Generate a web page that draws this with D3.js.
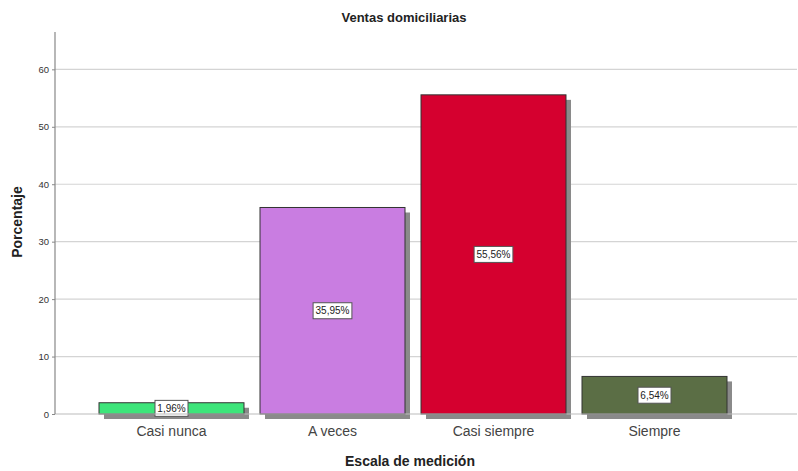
<!DOCTYPE html>
<html>
<head>
<meta charset="utf-8">
<script src="https://cdn.jsdelivr.net/npm/d3@7"></script>
<style>
body { margin: 0; background: #fff; }
svg { display: block; font-family: "Liberation Sans", Arial, sans-serif; }
</style>
</head>
<body>
<svg id="svg" width="798" height="471"></svg>
<script>
const categories = ['Casi nunca', 'A veces', 'Casi siempre', 'Siempre']
const values = [1.96, 35.95, 55.56, 6.54]
const labels = ['1,96%', '35,95%', '55,56%', '6,54%']
const colors = ['#3de57a', '#c97de1', '#d5002f', '#5b6e45']
const yTicks = [0, 10, 20, 30, 40, 50, 60]

const $svg = d3.select('#svg')

const plot = { left: 55, right: 797, top: 32, bottom: 414 }

const y = d3.scaleLinear()
	.domain([0, 66.5])
	.range([plot.bottom, plot.top])

const x = d3.scaleBand()
	.domain(categories)
	.range([91, 735])
	.paddingInner(0.0994)
	.paddingOuter(0.0497)

// gridlines
$svg.append('g')
	.selectAll('line')
	.data(yTicks.filter(d => d > 0))
	.join('line')
	.attr('x1', plot.left)
	.attr('x2', plot.right)
	.attr('y1', d => y(d))
	.attr('y2', d => y(d))
	.attr('stroke', '#d4d4d4')
	.attr('stroke-width', 1.2)

// bars with shadow
const bars = $svg.append('g')
	.selectAll('g')
	.data(categories.map((c, i) => ({ c, v: values[i], label: labels[i], color: colors[i] })))
	.join('g')

bars.append('rect')
	.attr('x', d => x(d.c) + 5)
	.attr('y', d => y(d.v) + 5)
	.attr('width', x.bandwidth())
	.attr('height', d => y(0) - y(d.v))
	.attr('fill', '#8a8a8a')

// x baseline
$svg.append('line')
	.attr('x1', plot.left)
	.attr('x2', plot.right)
	.attr('y1', y(0))
	.attr('y2', y(0))
	.attr('stroke', '#bbb')
	.attr('stroke-width', 1.2)

bars.append('rect')
	.attr('x', d => x(d.c))
	.attr('y', d => y(d.v))
	.attr('width', x.bandwidth())
	.attr('height', d => y(0) - y(d.v))
	.attr('fill', d => d.color)
	.attr('stroke', '#333')
	.attr('stroke-width', 1)

const lab = bars.append('g')
	.attr('transform', d => `translate(${x(d.c) + x.bandwidth() / 2},${(y(d.v) + y(0)) / 2})`)

lab.append('rect')
	.attr('x', d => -(d.label.length * 2.9 + 2))
	.attr('y', -8)
	.attr('width', d => d.label.length * 5.8 + 4)
	.attr('height', 16)
	.attr('fill', '#fff')
	.attr('stroke', '#555')
	.attr('stroke-width', 1)

lab.append('text')
	.attr('text-anchor', 'middle')
	.attr('dy', '0.35em')
	.attr('font-size', 10)
	.attr('fill', '#222')
	.text(d => d.label)

// y axis
const yAxis = $svg.append('g')
	.attr('transform', `translate(${plot.left},0)`)
	.call(d3.axisLeft(y).tickValues(yTicks).tickSize(3).tickFormat(d3.format('d')))
yAxis.select('.domain').remove()
yAxis.append('line')
	.attr('y1', plot.top)
	.attr('y2', plot.bottom)
	.attr('stroke', '#888')
	.attr('stroke-width', 1.2)
yAxis.selectAll('.tick line').attr('stroke', '#888')
yAxis.selectAll('.tick text')
	.attr('font-size', 9.5)
	.attr('fill', '#333')
	.attr('font-family', '"Liberation Sans", Arial, sans-serif')

// x category labels
$svg.append('g')
	.selectAll('text')
	.data(categories)
	.join('text')
	.attr('x', d => x(d) + x.bandwidth() / 2)
	.attr('y', 436)
	.attr('text-anchor', 'middle')
	.attr('font-size', 14)
	.attr('fill', '#444')
	.text(d => d)

// titles
$svg.append('text')
	.attr('x', 404)
	.attr('y', 22)
	.attr('text-anchor', 'middle')
	.attr('font-size', 13)
	.attr('font-weight', 'bold')
	.attr('fill', '#222')
	.text('Ventas domiciliarias')

$svg.append('text')
	.attr('x', 410)
	.attr('y', 466)
	.attr('text-anchor', 'middle')
	.attr('font-size', 14)
	.attr('font-weight', 'bold')
	.attr('fill', '#222')
	.text('Escala de medición')

$svg.append('text')
	.attr('transform', 'translate(22,222) rotate(-90)')
	.attr('text-anchor', 'middle')
	.attr('font-size', 14)
	.attr('font-weight', 'bold')
	.attr('fill', '#222')
	.text('Porcentaje')
</script>
</body>
</html>
